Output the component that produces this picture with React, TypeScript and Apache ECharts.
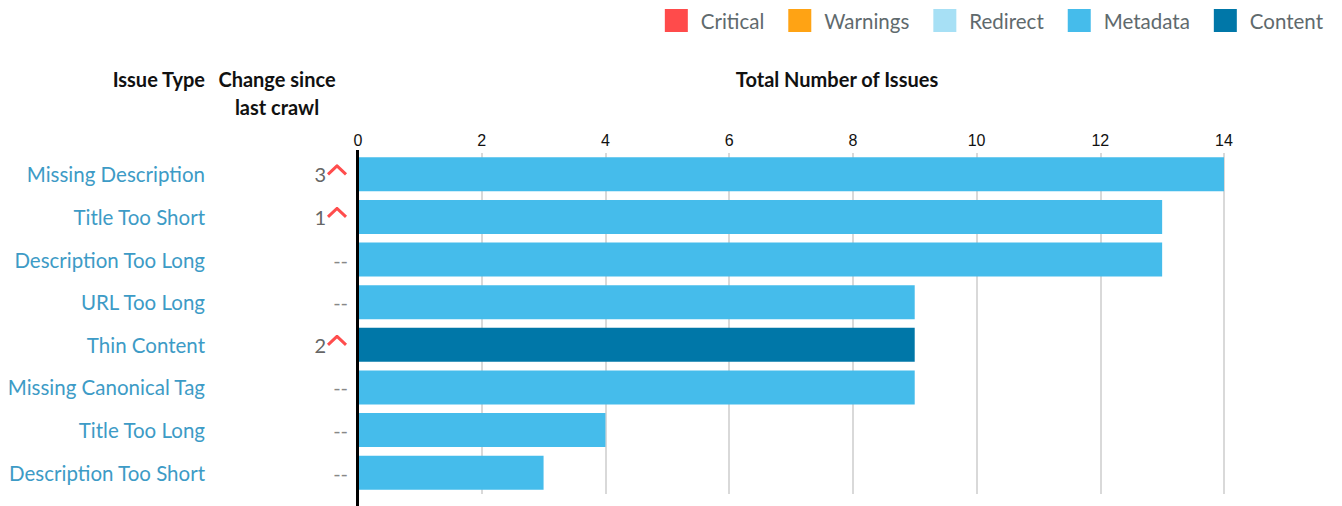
import React, { useEffect, useRef } from "react";
import * as echarts from "echarts";

const categories = [
  "Missing Description",
  "Title Too Short",
  "Description Too Long",
  "URL Too Long",
  "Thin Content",
  "Missing Canonical Tag",
  "Title Too Long",
  "Description Too Short",
];
const metadataValues: (number | string)[] = [14, 13, 13, 9, "-", 9, 4, 3];
const contentValues: (number | string)[] = ["-", "-", "-", "-", 9, "-", "-", "-"];
const criticalValues: (number | string)[] = ["-", "-", "-", "-", "-", "-", "-", "-"];
const warningValues: (number | string)[] = ["-", "-", "-", "-", "-", "-", "-", "-"];
const redirectValues: (number | string)[] = ["-", "-", "-", "-", "-", "-", "-", "-"];
const changeValues: (number | null)[] = [3, 1, null, null, 2, null, null, null];
const xTicks = { min: 0, max: 14, interval: 2 };

const COLORS = {
  Critical: "#ff4b4b",
  Warnings: "#ffa314",
  Redirect: "#a7e0f5",
  Metadata: "#45bceb",
  Content: "#0077a8",
};

const caretSvg =
  "data:image/svg+xml;utf8," +
  encodeURIComponent(
    "<svg xmlns='http://www.w3.org/2000/svg' width='22' height='20'><polyline points='2,10 11,1.5 20,10' fill='none' stroke='#ff4d4d' stroke-width='3'/></svg>"
  );

export default function App() {
  const ref = useRef<HTMLDivElement>(null);
  useEffect(() => {
    if (!ref.current) return;
    const chart = echarts.init(ref.current, null, { renderer: "svg" });
    const font = "Lato";
    const mkSeries = (name: string, data: (number | string)[]) => ({
      name,
      type: "bar",
      stack: "total",
      yAxisIndex: 0,
      barWidth: 34,
      data,
      itemStyle: { color: (COLORS as any)[name] },
    });
    chart.setOption({
      animation: false,
      textStyle: { fontFamily: font },
      legend: {
        right: 19,
        top: 9,
        padding: 0,
        itemWidth: 23,
        itemHeight: 23,
        itemGap: 24,
        icon: "rect",
        selectedMode: false,
        textStyle: { fontSize: 20.5, color: "#5f6a6d", fontFamily: font, padding: [0, 0, 0, 8] },
        data: ["Critical", "Warnings", "Redirect", "Metadata", "Content"],
      },
      grid: { left: 358, right: 118, top: 153, height: 341 },
      xAxis: {
        type: "value",
        position: "top",
        min: xTicks.min,
        max: xTicks.max,
        interval: xTicks.interval,
        axisLine: { show: false },
        axisTick: { show: false },
        axisLabel: { fontSize: 16, color: "#111", margin: 5, fontFamily: "Liberation Sans" },
        splitLine: { lineStyle: { color: "#cccccc", width: 1.5 } },
      },
      yAxis: [
        {
          type: "category",
          data: categories,
          inverse: true,
          position: "left",
          axisLine: { show: false },
          axisTick: { show: false },
          axisLabel: {
            fontSize: 20.5,
            color: "#3d9bc6",
            margin: 153,
            fontFamily: font,
          },
        },
        {
          type: "category",
          data: categories.map((_, i) => String(i)),
          inverse: true,
          position: "left",
          axisLine: { show: false },
          axisTick: { show: false },
          axisLabel: {
            margin: 10,
            formatter: (v: string) => {
              const c = changeValues[Number(v)];
              if (c == null) return "{dash|--}";
              return "{num|" + c + "}{car|}";
            },
            rich: {
              num: { fontSize: 20, color: "#666", fontFamily: font },
              dash: { fontSize: 20, color: "#888", fontFamily: font },
              car: {
                width: 22,
                height: 20,
                backgroundColor: { image: caretSvg },
              },
            },
          },
        },
      ],
      graphic: [
        {
          type: "line",
          shape: { x1: 357.5, y1: 150, x2: 357.5, y2: 506 },
          style: { stroke: "#000", lineWidth: 3 },
          z: 100,
        },
        {
          type: "text",
          x: 205,
          y: 79,
          style: {
            text: "Issue Type",
            font: "bold 20px Lato",
            fill: "#111",
            align: "right",
            verticalAlign: "middle",
          },
        },
        {
          type: "text",
          x: 277,
          y: 93,
          style: {
            text: "Change since\nlast crawl",
            font: "bold 20px Lato",
            fill: "#111",
            align: "center",
            verticalAlign: "middle",
            lineHeight: 28,
          },
        },
        {
          type: "text",
          x: 837,
          y: 79,
          style: {
            text: "Total Number of Issues",
            font: "bold 20px Lato",
            fill: "#111",
            align: "center",
            verticalAlign: "middle",
          },
        },
      ],
      series: [
        mkSeries("Critical", criticalValues),
        mkSeries("Warnings", warningValues),
        mkSeries("Redirect", redirectValues),
        mkSeries("Metadata", metadataValues),
        mkSeries("Content", contentValues),
      ],
    });
    return () => chart.dispose();
  }, []);
  return <div ref={ref} style={{ width: 1342, height: 506, position: "absolute", left: 0, top: 0 }} />;
}
